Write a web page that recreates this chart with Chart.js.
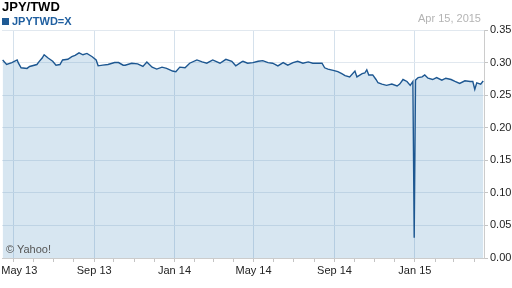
<!DOCTYPE html>
<html>
<head>
<meta charset="utf-8">
<script src="https://cdn.jsdelivr.net/npm/chart.js@4.4.1/dist/chart.umd.min.js"></script>
<style>
  body { margin: 0; background: #fff; }
  #wrap { position: relative; width: 512px; height: 288px; font-family: "Liberation Sans", Arial, sans-serif; }
  #title { position: absolute; left: 2px; top: -1px; font-size: 13px; font-weight: bold; color: #000; }
  #legend { position: absolute; left: 2px; top: 15px; font-size: 11px; font-weight: bold; color: #1f5fa0; }
  #legend span.box { display: inline-block; width: 7px; height: 7px; background: #1f5a94; margin-right: 3px; vertical-align: 0px; }
  #date { position: absolute; right: 31px; top: 12px; font-size: 11px; color: #b4b4b4; }
  #copy { position: absolute; left: 6px; top: 243px; font-size: 11px; color: #555; }
</style>
</head>
<body>
<div id="wrap">
  <canvas id="chart" width="512" height="288"></canvas>
  <div id="title">JPY/TWD</div>
  <div id="legend"><span class="box"></span>JPYTWD=X</div>
  <div id="date">Apr 15, 2015</div>
  <div id="copy">© Yahoo!</div>
</div>
<script>
const dates = [
  "2013-04-15", "2013-04-21", "2013-04-29", "2013-05-07", "2013-05-09", "2013-05-13",
  "2013-05-22", "2013-05-26", "2013-06-06", "2013-06-09", "2013-06-14", "2013-06-17",
  "2013-06-23", "2013-06-30", "2013-07-05", "2013-07-11", "2013-07-15", "2013-07-23",
  "2013-07-29", "2013-08-03", "2013-08-09", "2013-08-15", "2013-08-21", "2013-08-29",
  "2013-09-04", "2013-09-07", "2013-09-14", "2013-09-22", "2013-10-02", "2013-10-08",
  "2013-10-15", "2013-10-18", "2013-10-28", "2013-11-06", "2013-11-14", "2013-11-20",
  "2013-11-28", "2013-12-05", "2013-12-13", "2013-12-20", "2013-12-29", "2014-01-03",
  "2014-01-09", "2014-01-17", "2014-01-24", "2014-02-04", "2014-02-12", "2014-02-19",
  "2014-02-28", "2014-03-11", "2014-03-20", "2014-03-29", "2014-04-04", "2014-04-13",
  "2014-04-15", "2014-04-22", "2014-04-30", "2014-05-08", "2014-05-15", "2014-05-23",
  "2014-05-30", "2014-06-07", "2014-06-15", "2014-06-22", "2014-06-30", "2014-07-07",
  "2014-07-15", "2014-07-23", "2014-07-30", "2014-08-07", "2014-08-13", "2014-08-17",
  "2014-08-22", "2014-08-30", "2014-09-06", "2014-09-12", "2014-09-17", "2014-09-24",
  "2014-10-02", "2014-10-05", "2014-10-13", "2014-10-17", "2014-10-20", "2014-10-23",
  "2014-10-29", "2014-11-03", "2014-11-06", "2014-11-12", "2014-11-19", "2014-11-27",
  "2014-12-05", "2014-12-09", "2014-12-14", "2014-12-20", "2014-12-25", "2014-12-29",
  "2014-12-30", "2014-12-31", "2015-01-02", "2015-01-06", "2015-01-12", "2015-01-16",
  "2015-01-21", "2015-01-28", "2015-02-03", "2015-02-11", "2015-02-17", "2015-02-25",
  "2015-03-03", "2015-03-10", "2015-03-18", "2015-03-26", "2015-03-30", "2015-04-02",
  "2015-04-05", "2015-04-11", "2015-04-14", "2015-04-15"
];
const rates = [
  0.304, 0.297, 0.300, 0.304, 0.299, 0.292,
  0.291, 0.294, 0.297, 0.301, 0.307, 0.312,
  0.307, 0.302, 0.296, 0.297, 0.304, 0.305,
  0.309, 0.311, 0.315, 0.312, 0.314, 0.309,
  0.304, 0.295, 0.296, 0.297, 0.300, 0.300,
  0.296, 0.296, 0.299, 0.298, 0.294, 0.301,
  0.293, 0.290, 0.293, 0.291, 0.287, 0.286,
  0.293, 0.292, 0.299, 0.304, 0.301, 0.299,
  0.304, 0.299, 0.305, 0.302, 0.295, 0.301,
  0.302, 0.299, 0.300, 0.302, 0.303, 0.300,
  0.299, 0.295, 0.300, 0.296, 0.300, 0.302,
  0.299, 0.301, 0.299, 0.299, 0.299, 0.292,
  0.290, 0.288, 0.286, 0.283, 0.280, 0.278,
  0.287, 0.278, 0.283, 0.284, 0.289, 0.281,
  0.281, 0.274, 0.269, 0.267, 0.265, 0.267,
  0.264, 0.267, 0.274, 0.271, 0.265, 0.271,
  0.153, 0.031, 0.273, 0.277, 0.278, 0.281,
  0.276, 0.274, 0.277, 0.273, 0.276, 0.274,
  0.271, 0.268, 0.272, 0.271, 0.271, 0.259,
  0.269, 0.267, 0.271, 0.270
];
const tickDates = ["2013-05-01", "2013-09-01", "2014-01-01", "2014-05-01", "2014-09-01", "2015-01-01"];
const tickLabels = ["May 13", "Sep 13", "Jan 14", "May 14", "Sep 14", "Jan 15"];
const yTicks = [0, 0.05, 0.10, 0.15, 0.20, 0.25, 0.30, 0.35];

function dayNum(s) {
  const p = s.split("-");
  return Date.UTC(+p[0], +p[1] - 1, +p[2]) / 86400000;
}

const labelFor = {};
tickDates.forEach((d, i) => { labelFor[dayNum(d)] = tickLabels[i]; });
// first label is pushed right so it isn't clipped by the canvas edge
labelFor[dayNum(tickDates[0])] = "\u00a0\u00a0\u00a0\u00a0" + tickLabels[0];

// monthly ticks, labelled every 4 months
const monthTicks = [];
for (let i = 0; i < 24; i++) {
  monthTicks.push(Date.UTC(2013, 4 + i, 1) / 86400000);
}

const points = dates.map((d, i) => ({ x: dayNum(d), y: rates[i] }));

function noPad(scale) {
  scale.paddingLeft = 0;
  scale.paddingRight = 0;
  scale.paddingTop = 0;
  scale.paddingBottom = 0;
}

Chart.defaults.font.family = '"Liberation Sans", Arial, sans-serif';
Chart.defaults.font.size = 11;

new Chart(document.getElementById("chart"), {
  type: "line",
  data: {
    datasets: [{
      label: "JPYTWD=X",
      data: points,
      borderColor: "#1d5791",
      borderWidth: 1.4,
      backgroundColor: "rgba(40,120,180,0.19)",
      fill: "origin",
      pointRadius: 0,
      tension: 0,
    }],
  },
  options: {
    responsive: false,
    animation: false,
    devicePixelRatio: 1,
    layout: { padding: { top: 30, left: 2, right: 0, bottom: 0 } },
    plugins: { legend: { display: false }, tooltip: { enabled: false } },
    scales: {
      x: {
        type: "linear",
        min: dayNum("2013-04-14"),
        max: dayNum("2015-04-16"),
        afterBuildTicks: (scale) => {
          scale.ticks = monthTicks.map((v) => ({ value: v }));
        },
        afterFit: (scale) => { scale.height = 30; noPad(scale); },
        ticks: {
          autoSkip: false,
          maxRotation: 0,
          padding: 2,
          color: "#222",
          callback: (value) => labelFor[value] || "",
        },
        grid: {
          color: (ctx) => (ctx.tick && labelFor[ctx.tick.value] ? "#d5e1ec" : "rgba(0,0,0,0)"),
          tickColor: "#c4c4c4",
          tickLength: 4,
        },
        border: { color: "#cccccc" },
      },
      y: {
        position: "right",
        min: 0,
        max: 0.35,
        afterBuildTicks: (scale) => {
          scale.ticks = yTicks.map((v) => ({ value: v }));
        },
        afterFit: (scale) => { scale.width = 28; noPad(scale); },
        ticks: {
          padding: 2,
          color: "#222",
          callback: (value) => value.toFixed(2),
        },
        grid: {
          color: "#e1e8ef",
          tickColor: "#c4c4c4",
          tickLength: 4,
        },
        border: { color: "#cccccc" },
      },
    },
  },
});
</script>
</body>
</html>
